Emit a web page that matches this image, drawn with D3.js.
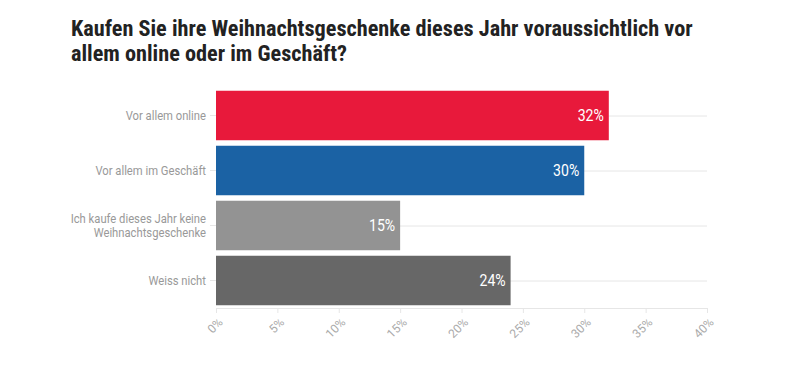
<!DOCTYPE html>
<html><head><meta charset="utf-8">
<script src="https://cdn.jsdelivr.net/npm/d3@7"></script>
<style>body{margin:0;background:#fff}svg{display:block}</style>
</head><body>
<script>
const categories = ["Vor allem online","Vor allem im Geschäft","Ich kaufe dieses Jahr keine|Weihnachtsgeschenke","Weiss nicht"];
const values = [32, 30, 15, 24];
const colors = ["#e8193b","#1b62a4","#939393","#676767"];
const xTicks = [0,5,10,15,20,25,30,35,40];
const titleLines = ["Kaufen Sie ihre Weihnachtsgeschenke dieses Jahr voraussichtlich vor","allem online oder im Geschäft?"];

const W=791,H=368;
const svg=d3.select("body").append("svg").attr("width",W).attr("height",H);
const m={left:216,right:84,top:88,bottom:60};
const x=d3.scaleLinear().domain([0,40]).range([m.left,W-m.right]);
const y=d3.scaleBand().domain(categories).range([m.top,308]).paddingInner(0.1).paddingOuter(0.05);

// title
const tg=svg.append("g");
const t1=tg.append("text").attr("x",71).attr("y",36).text(titleLines[0])
  .attr("font-family","'Roboto Condensed', Roboto, sans-serif").attr("font-weight",700).attr("font-size",21.5).attr("fill","#222");
const w1=t1.node().getComputedTextLength();
const sx=622/w1;
tg.selectAll("text").remove();
titleLines.forEach((l,i)=>{
  tg.append("text").attr("transform",`translate(71,${36+i*25}) scale(${sx},1)`).text(l)
    .attr("font-family","'Roboto Condensed', Roboto, sans-serif").attr("font-weight",700).attr("font-size",21.5).attr("fill","#222");
});

// gridlines at band centers
svg.append("g").selectAll("line").data(categories).join("line")
  .attr("x1",x(0)).attr("x2",x(40))
  .attr("y1",d=>y(d)+y.bandwidth()/2+0.5).attr("y2",d=>y(d)+y.bandwidth()/2+0.5)
  .attr("stroke","#e6e6e6");

// bars
svg.append("g").selectAll("rect").data(categories).join("rect")
  .attr("x",x(0)).attr("y",d=>y(d)).attr("height",y.bandwidth())
  .attr("width",(d,i)=>x(values[i])-x(0)).attr("fill",(d,i)=>colors[i]);

// value labels
const lblScale=0.88;
svg.append("g").selectAll("text").data(categories).join("text")
  .attr("transform",(d,i)=>`translate(${x(values[i])-5},${y(d)+y.bandwidth()/2+5.5}) scale(${lblScale},1)`)
  .attr("text-anchor","end").attr("fill","#fff").attr("font-family","Roboto, sans-serif").attr("font-size",16)
  .text((d,i)=>values[i]+"%");

// y axis
const ya=svg.append("g").attr("transform",`translate(${x(0)},0)`)
  .call(d3.axisLeft(y).tickSize(6).tickPadding(10).tickFormat(""));
ya.select(".domain").remove();
ya.selectAll(".tick line").attr("stroke","#e6e6e6");
ya.selectAll(".tick").each(function(d){
  const lines=d.split("|");
  const t=d3.select(this).append("text").attr("fill","#999").attr("font-family","Roboto, sans-serif").attr("font-size",12.5)
    .attr("text-anchor","end").attr("transform","translate(-10,0) scale(0.9,1)");
  lines.forEach((l,i)=>t.append("tspan").attr("x",0).attr("y",(i-(lines.length-1)/2)*15+4.5).text(l));
});

// x axis
const xa=svg.append("g").attr("transform","translate(0,308)")
  .call(d3.axisBottom(x).tickValues(xTicks).tickSize(5).tickFormat(d=>d+"%"));
xa.select(".domain").attr("stroke","#e6e6e6");
xa.selectAll(".tick line").attr("stroke","#e6e6e6");
xa.selectAll(".tick text").attr("fill","#aaa").attr("font-family","Roboto, sans-serif").attr("font-size",12)
  .attr("text-anchor","end").attr("dy",0).attr("y",0)
  .attr("transform","translate(7,15) rotate(-45)");
</script>
</body></html>
